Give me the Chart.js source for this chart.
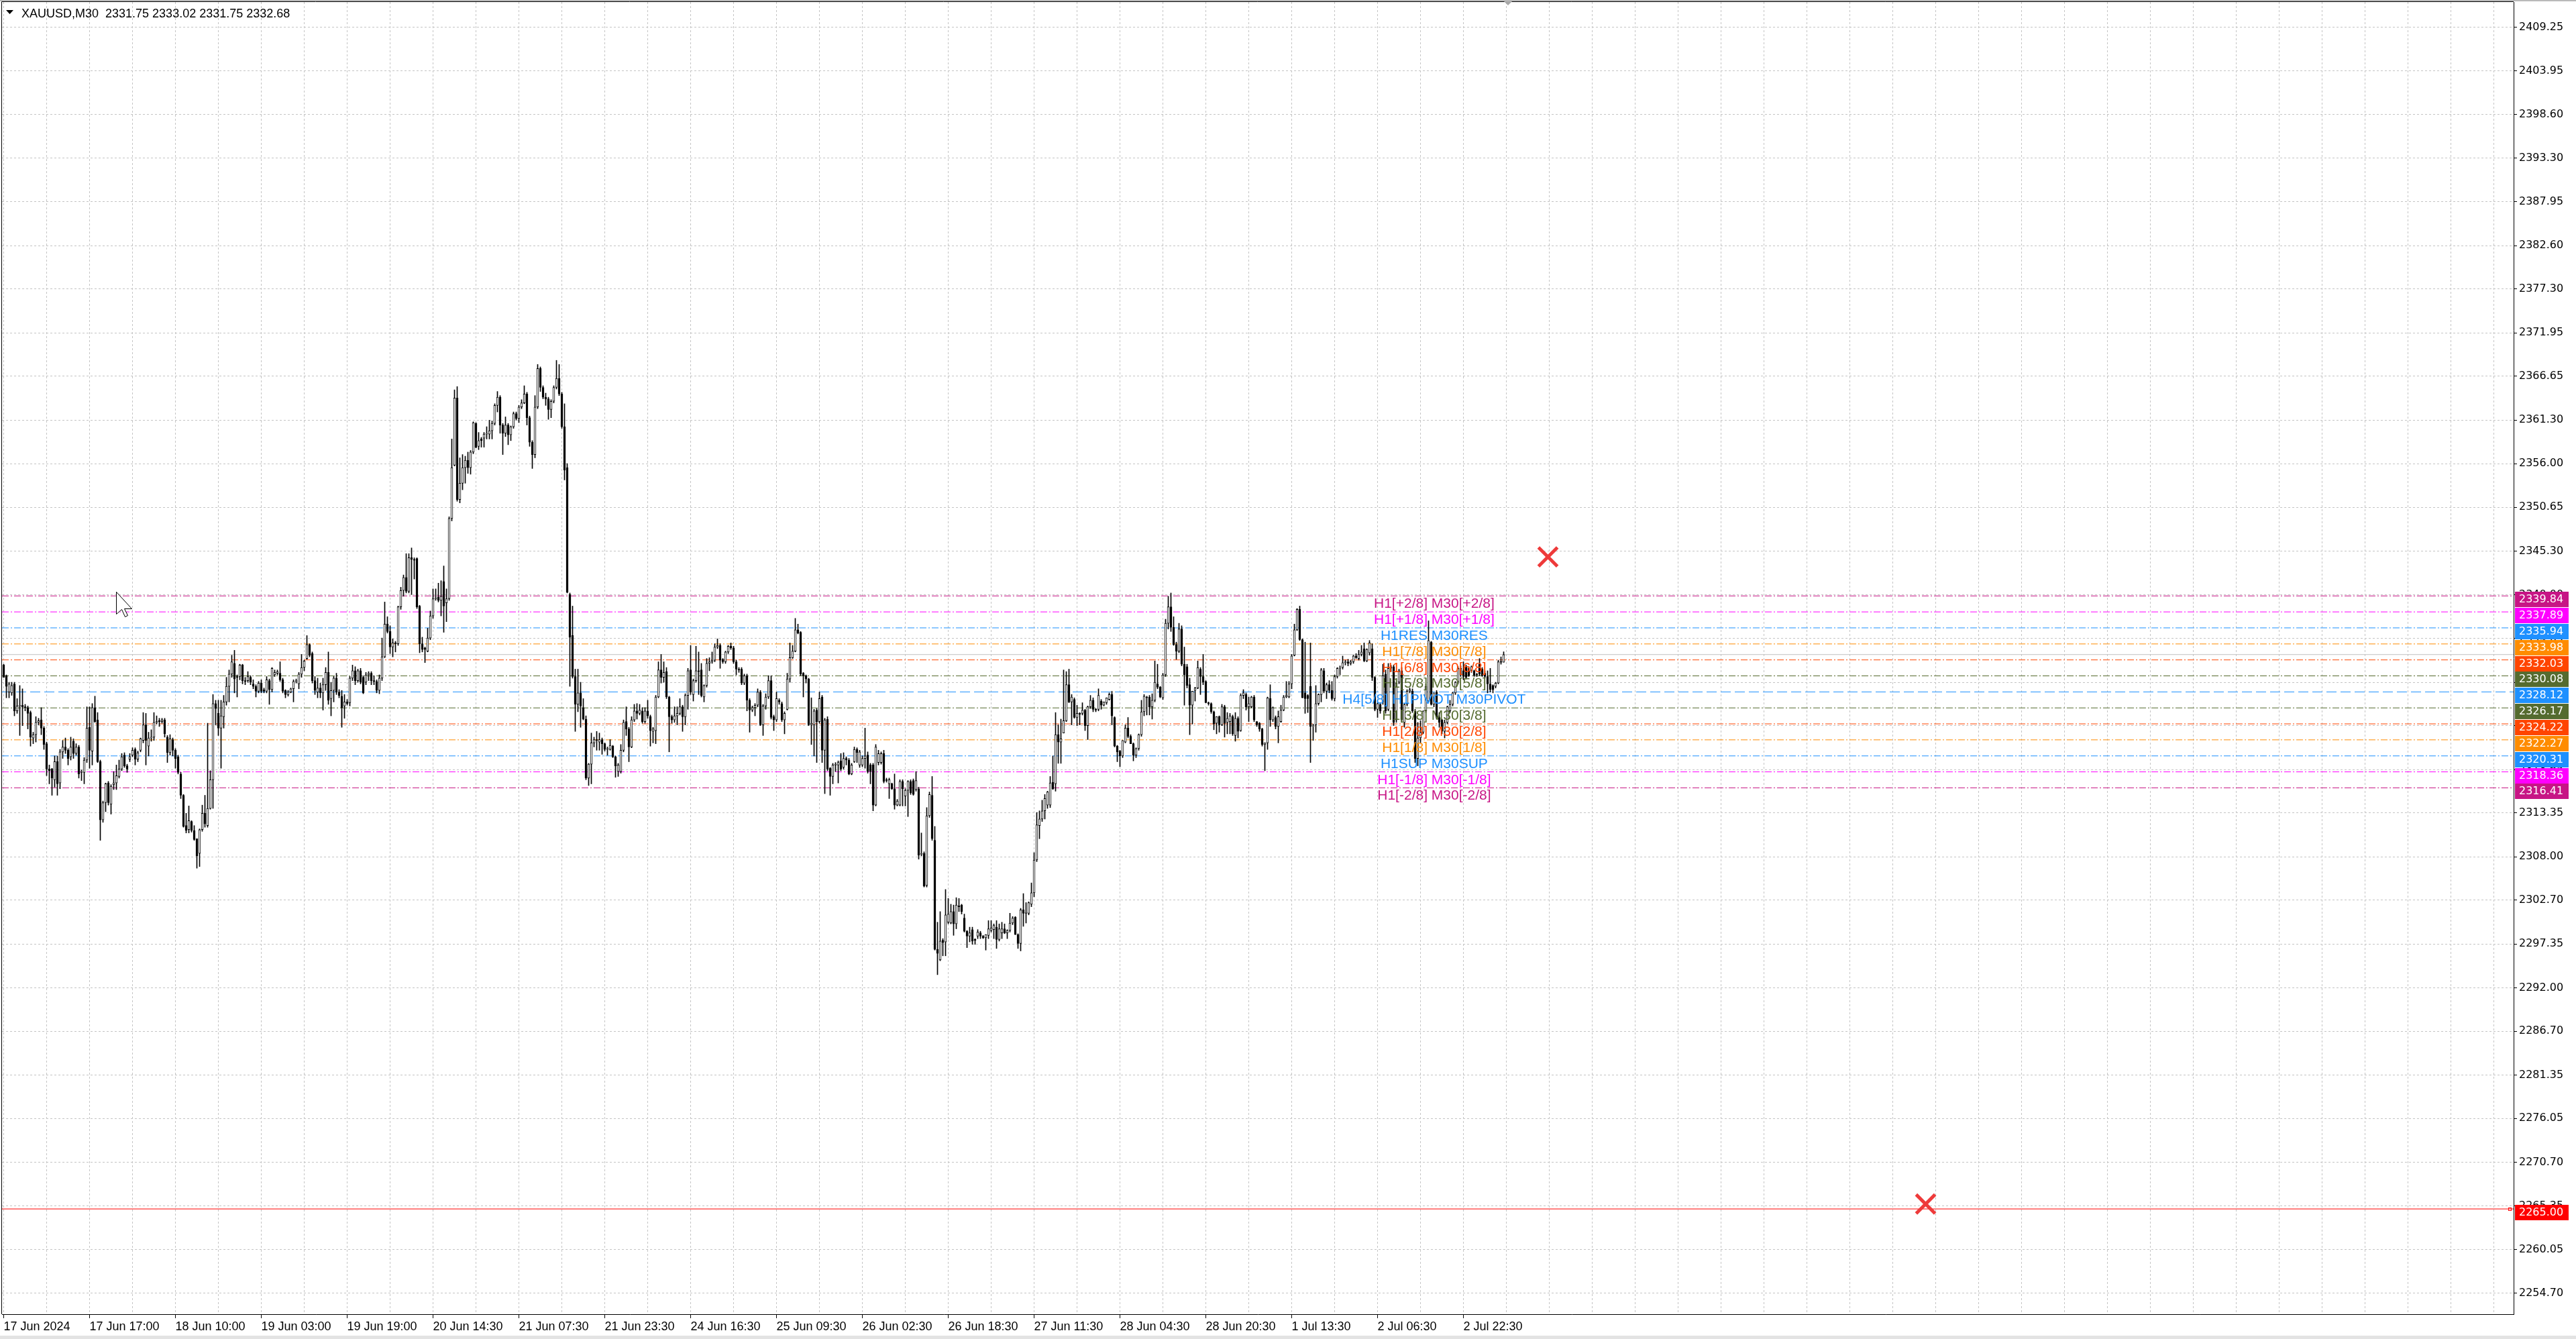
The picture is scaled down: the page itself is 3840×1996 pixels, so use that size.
<!DOCTYPE html>
<html>
<head>
<meta charset="utf-8">
<title>XAUUSD,M30</title>
<script src="https://cdn.jsdelivr.net/npm/chart.js@4.4.1/dist/chart.umd.min.js"></script>
<style>
  html, body { margin: 0; padding: 0; background: #ffffff; overflow: hidden; }
  #wrap { width: 3840px; height: 1996px; position: relative; }
  canvas { display: block; }
</style>
</head>
<body>
<div id="wrap"><canvas id="grafico" width="3840" height="1996"></canvas></div>
<script>
// Velas M30 de XAUUSD, desde 17 Jun 2024 01:00 hasta la vela actual (3 Jul)
const opens = [
  2331.4,2330.1,2328.1,2328.0,2329.1,2325.8,2326.4,2326.5,2326.3,2326.2,
  2325.6,2322.5,2322.9,2324.4,2324.7,2323.7,2321.8,2318.7,2318.7,2317.4,
  2319.6,2317.0,2320.8,2321.4,2321.0,2320.2,2322.1,2320.6,2321.4,2318.3,
  2318.3,2319.8,2323.8,2320.9,2326.2,2324.7,2319.6,2312.5,2314.6,2317.0,
  2314.4,2316.8,2317.0,2317.8,2318.7,2320.4,2319.1,2319.9,2320.4,2321.1,
  2319.9,2321.0,2322.2,2324.1,2321.5,2322.5,2322.6,2324.4,2324.6,2324.5,
  2324.7,2322.6,2320.7,2322.3,2321.0,2320.2,2318.1,2315.5,2311.8,2311.3,
  2312.3,2311.2,2310.2,2308.4,2311.3,2313.3,2311.8,2313.9,2317.4,2326.7,
  2325.5,2323.7,2325.1,2326.9,2328.8,2330.3,2331.6,2330.0,2330.0,2331.4,
  2329.5,2329.5,2329.9,2329.1,2328.8,2328.2,2329.2,2328.4,2328.2,2329.5,
  2328.4,2330.2,2330.4,2330.4,2329.6,2328.3,2327.8,2328.1,2328.5,2329.4,
  2329.1,2330.3,2331.1,
  2332.2,2333.9,2332.8,2329.5,2328.1,2328.6,2328.0,2329.0,2330.5,2327.3,
  2328.3,2329.8,2328.1,2327.6,2326.4,2326.9,2326.8,2329.8,2330.7,2329.5,
  2330.7,2329.9,2329.3,2330.2,2330.4,2329.5,2329.4,2328.3,2329.8,2332.4,
  2336.4,2335.5,2333.6,2334.1,2334.0,2338.5,2340.5,2342.1,2340.4,2344.5,
  2344.3,2344.4,2338.6,2334.0,2333.5,2333.1,2334.7,2337.4,2339.5,2339.7,
  2339.3,2341.6,2339.0,2339.5,2349.3,2355.8,2364.0,2351.6,2353.6,2355.5,
  2356.4,2355.5,2357.4,2360.9,2358.1,2359.0,2359.1,2359.6,2359.6,2360.0,
  2360.9,2363.1,2364.1,2360.7,2359.7,2360.7,2359.5,2360.5,2362.1,2361.5,
  2362.9,2363.4,2364.5,2361.6,2358.6,2357.1,2362.9,2367.6,2365.3,2364.1,
  2363.9,2362.6,2363.6,2365.3,2366.4,2364.5,2360.5,2355.5,2340.0,2335.0,
  2330.0,2326.6,2328.0,2326.2,2324.8,2317.6,2319.3,2321.9,2322.3,2322.0,
  2322.3,2321.8,2321.1,2321.1,
  2321.5,2320.2,2318.4,2318.4,2321.0,2324.5,2323.6,2321.4,2324.7,2325.8,
  2325.5,2325.8,2324.5,2325.8,2325.1,2323.3,2323.4,2327.5,2330.8,2329.9,
  2330.6,2327.5,2325.1,2324.7,2325.2,2325.5,2326.3,2325.1,2327.7,2330.8,
  2327.8,2329.5,2330.7,2330.8,2327.5,2328.9,2331.6,2331.8,2332.0,2333.6,
  2333.8,2332.1,2331.8,2333.0,2333.7,2333.5,2331.8,2330.9,2330.9,2329.2,
  2330.1,2327.1,2325.9,2326.2,2326.5,2328.1,2324.1,2326.4,2327.5,2329.5,
  2325.1,2324.7,2327.1,2326.7,2324.7,2326.0,2329.7,2332.3,2333.1,2335.7,
  2335.4,2330.4,2330.1,2329.7,2324.1,2324.1,2325.9,2324.5,2327.5,2321.0,
  2324.8,2318.8,2317.8,2319.2,2319.2,2319.7,2318.9,2320.0,2319.8,2318.1,
  2319.6,2321.1,2319.2,2319.2,2320.0,2320.4,2319.2,2319.2,2314.3,2319.5,
  2319.5,2320.6,2317.4,2316.9,2316.9,2316.3,2314.3,2314.3,2317.2,2315.4,
  2316.1,2317.2,
  2317.3,2316.2,2316.3,2308.3,2308.4,2304.5,2313.0,2315.5,2310.0,2296.7,
  2295.4,2297.8,2297.6,2300.0,2299.9,2301.3,2299.8,2302.0,2302.1,2300.5,
  2298.9,2298.3,2299.1,2297.9,2298.3,2298.7,2298.3,2298.1,2298.4,2299.0,
  2299.1,2299.4,2297.9,2298.7,2299.2,2298.7,2299.0,2299.9,2300.6,2298.5,
  2297.4,2301.5,2301.1,2301.1,2302.2,2303.6,2307.6,2311.8,2312.6,2313.6,
  2314.3,2314.3,2317.1,2316.9,2322.9,2322.0,2323.1,2324.6,2329.0,2326.9,
  2327.2,2325.0,2325.5,2325.5,2325.9,2324.0,2326.3,2327.1,2326.0,2326.0,
  2327.0,2326.5,2326.8,2327.2,2327.8,2325.0,2321.5,2320.9,2320.3,2322.0,
  2323.7,2322.7,2321.8,2320.4,2321.2,2322.9,2325.7,2327.5,2327.5,2326.3,
  2327.1,2329.1,2328.7,2327.4,2330.2,2336.5,2338.5,2336.0,2333.9,2333.1,
  2335.8,2331.5,2331.2,2329.0,2326.5,2328.3,2328.6,2330.9,2330.0,2329.4,
  2326.8,2326.7,2325.7,
  2324.3,2325.1,2324.1,2326.3,2324.4,2324.5,2325.1,2322.8,2324.9,2323.4,
  2327.7,2327.8,2326.3,2326.3,2327.5,2324.5,2324.3,2323.6,2321.7,2321.9,
  2327.3,2324.7,2325.0,2323.9,2324.5,2325.9,2327.5,2327.5,2329.1,2332.6,
  2335.7,2338.2,2334.5,2328.0,2327.7,
  2328.8,2323.9,2324.1,2326.7,2327.8,2330.7,2328.2,2329.0,2328.3,2327.3,
  2330.0,2331.0,2331.1,2331.7,2331.8,2331.6,2331.8,2332.5,2332.2,2332.7,
  2333.4,2331.9,2332.9,2333.4,2329.9,2326.0,2326.6,2326.9,2330.3,2326.0,
  2331.0,2331.2,2324.7,2329.3,2330.7,2324.4,2326.6,2328.2,2328.2,2325.8,
  2320.0,2322.5,2323.2,2325.8,2327.0,2334.2,2326.6,2328.1,2325.0,2324.7,
  2323.3,2324.4,2325.8,2326.6,2328.0,2329.3,2330.2,2330.7,2331.2,2331.0,
  2330.7,2330.7,2330.3,2331.5,2330.9,2330.4,2330.0,2329.1,2328.9,2328.8,
  2329.2,2331.8,2331.75
];
const highs = [
  2331.5,2330.2,2329.3,2329.3,2329.3,2327.3,2328.9,2328.5,2326.6,2326.4,
  2325.8,2323.2,2325.1,2324.9,2326.2,2323.9,2322.0,2319.2,2318.8,2320.3,
  2320.3,2321.1,2322.2,2322.5,2321.2,2322.6,2322.4,2321.8,2321.6,2318.6,
  2320.1,2326.3,2326.3,2326.7,2327.6,2325.6,2319.8,2314.8,2317.0,2317.2,
  2316.8,2318.4,2319.2,2319.8,2320.6,2320.7,2319.3,2320.6,2321.3,2321.3,
  2320.9,2322.5,2325.6,2325.5,2323.2,2323.5,2325.6,2325.2,2324.9,2324.9,
  2324.9,2322.8,2322.9,2322.5,2321.2,2320.4,2318.3,2315.6,2313.3,2314.2,
  2312.4,2311.8,2310.2,2311.4,2314.3,2315.5,2324.3,2318.5,2327.8,2327.1,
  2327.1,2327.1,2327.7,2329.9,2330.8,2332.6,2333.2,2330.2,2331.5,2331.5,
  2329.9,2330.6,2330.1,2329.6,2329.0,2329.4,2329.6,2328.6,2330.0,2329.7,
  2331.1,2330.8,2330.8,2331.8,2329.8,2328.4,2328.3,2328.6,2329.6,2329.7,
  2330.5,2332.7,2332.0,
  2335.0,2334.0,2333.0,2330.0,2329.8,2329.2,2329.8,2331.1,2333.0,2329.3,
  2330.0,2330.4,2328.4,2328.3,2327.8,2327.2,2330.0,2331.4,2331.2,2330.9,
  2331.0,2330.1,2330.5,2330.6,2330.6,2330.1,2329.6,2330.2,2334.7,2339.1,
  2337.3,2336.2,2334.6,2334.3,2338.6,2340.9,2342.4,2345.0,2345.0,2345.7,
  2344.5,2344.5,2338.7,2334.8,2333.6,2335.9,2338.0,2340.7,2340.7,2341.4,
  2341.7,2343.5,2340.7,2349.5,2359.0,2365.0,2365.4,2356.7,2357.1,2356.9,
  2357.4,2357.6,2361.1,2361.0,2359.8,2359.2,2359.8,2360.5,2361.3,2361.2,
  2363.3,2364.8,2364.3,2360.9,2361.7,2360.9,2360.6,2362.3,2362.3,2363.1,
  2363.8,2365.5,2364.7,2361.8,2358.8,2364.3,2368.1,2367.8,2365.5,2364.6,
  2364.1,2363.8,2365.5,2368.6,2368.1,2364.7,2363.3,2356.0,2340.2,2338.6,
  2330.9,2330.9,2329.3,2327.3,2325.2,2319.4,2323.1,2322.6,2323.3,2323.1,
  2322.5,2321.9,2321.4,2322.3,
  2321.6,2320.3,2319.4,2321.7,2324.7,2326.3,2323.8,2325.1,2326.6,2326.7,
  2326.6,2326.2,2326.2,2327.1,2325.3,2323.8,2327.7,2331.8,2332.7,2331.8,
  2331.1,2327.6,2325.3,2326.3,2326.3,2327.3,2326.5,2327.9,2331.0,2333.8,
  2329.7,2333.7,2333.0,2331.6,2329.0,2332.2,2332.3,2333.0,2334.0,2334.6,
  2334.0,2332.2,2333.1,2333.8,2334.1,2333.7,2332.0,2331.1,2331.1,2330.3,
  2330.3,2327.3,2326.4,2326.7,2328.5,2328.3,2326.6,2327.9,2330.1,2330.1,
  2325.3,2328.1,2327.3,2326.9,2325.7,2330.4,2334.1,2333.8,2337.1,2336.4,
  2335.5,2330.5,2330.2,2329.8,2327.4,2326.0,2326.1,2328.1,2327.7,2324.9,
  2325.1,2318.9,2319.4,2319.5,2319.7,2320.6,2320.7,2320.2,2320.0,2319.4,
  2321.4,2321.3,2321.0,2320.3,2323.7,2320.8,2319.4,2319.4,2321.7,2321.0,
  2320.8,2321.0,2317.6,2317.6,2317.0,2318.1,2315.0,2317.4,2317.4,2316.3,
  2317.3,2317.4,
  2317.5,2318.4,2316.5,2310.9,2308.6,2314.0,2315.9,2317.8,2311.7,2300.0,
  2301.3,2298.0,2304.0,2302.9,2302.2,2302.1,2303.0,2302.9,2302.2,2301.0,
  2299.0,2299.4,2299.4,2298.0,2299.1,2298.9,2298.4,2298.5,2300.2,2300.2,
  2299.8,2300.2,2299.8,2300.0,2299.8,2299.1,2301.1,2300.7,2300.7,2298.6,
  2301.7,2303.5,2302.4,2302.5,2304.8,2308.5,2313.4,2313.6,2314.9,2315.6,
  2316.0,2317.8,2320.3,2325.6,2324.1,2324.8,2330.8,2330.6,2330.9,2327.8,
  2327.4,2326.5,2325.6,2326.8,2326.0,2326.4,2327.7,2327.4,2326.1,2328.5,
  2327.2,2326.9,2327.4,2328.0,2328.2,2325.1,2321.6,2321.0,2322.2,2324.1,
  2325.0,2322.9,2321.9,2321.3,2323.0,2327.1,2327.8,2327.6,2327.7,2327.9,
  2331.9,2331.5,2328.8,2330.4,2337.0,2339.8,2340.2,2337.3,2334.2,2336.5,
  2336.2,2333.6,2331.5,2329.8,2328.2,2328.7,2331.9,2331.1,2332.7,2329.5,
  2326.9,2326.8,2325.8,
  2325.1,2325.2,2326.6,2326.5,2325.6,2325.5,2325.3,2325.6,2325.1,2327.9,
  2328.4,2328.0,2327.5,2327.6,2327.7,2324.5,2324.4,2323.7,2321.9,2327.5,
  2329.0,2326.3,2325.2,2325.8,2326.5,2327.7,2329.4,2329.4,2332.7,2336.4,
  2338.3,2338.6,2334.6,2334.2,2327.8,
  2334.1,2324.2,2328.9,2327.9,2331.0,2331.0,2329.2,2329.5,2329.4,2330.2,
  2331.1,2331.3,2332.5,2332.0,2332.1,2332.0,2332.6,2332.8,2333.2,2333.8,
  2334.1,2333.4,2334.4,2334.0,2330.0,2326.8,2326.8,2331.5,2330.8,2331.6,
  2331.4,2331.4,2329.3,2330.9,2331.1,2326.7,2328.4,2328.6,2328.5,2326.0,
  2324.4,2324.6,2325.8,2329.1,2336.8,2334.3,2328.0,2328.3,2325.6,2324.8,
  2324.7,2326.4,2327.1,2328.1,2329.4,2331.2,2331.3,2331.8,2331.4,2331.2,
  2331.3,2330.8,2330.4,2332.2,2331.1,2330.7,2330.7,2331.0,2329.0,2329.3,
  2332.0,2332.4,2333.02
];
const lows = [
  2329.9,2327.4,2327.4,2327.7,2325.2,2325.5,2322.8,2324.0,2325.8,2323.6,
  2321.5,2321.8,2322.0,2324.1,2322.9,2321.1,2317.9,2316.9,2315.5,2316.5,
  2315.5,2316.3,2320.0,2320.6,2319.2,2319.8,2320.0,2320.4,2317.6,2317.3,
  2316.9,2319.5,2318.8,2319.2,2324.4,2319.5,2310.0,2312.2,2313.5,2314.3,
  2313.2,2316.2,2316.2,2317.6,2318.5,2318.9,2318.3,2319.6,2320.2,2319.2,
  2319.6,2320.8,2321.9,2319.2,2320.3,2322.1,2322.2,2324.2,2323.9,2324.3,
  2322.6,2319.5,2320.4,2320.3,2318.8,2318.1,2315.1,2311.6,2310.9,2310.9,
  2311.0,2310.0,2306.6,2306.8,2311.1,2311.6,2311.6,2313.8,2313.9,2324.1,
  2322.8,2318.8,2323.7,2326.5,2326.9,2329.9,2328.0,2327.5,2329.6,2329.1,
  2329.0,2329.3,2329.0,2328.5,2327.5,2328.0,2328.0,2328.0,2328.0,2326.6,
  2328.1,2330.0,2330.2,2329.4,2328.0,2327.4,2327.6,2328.0,2326.9,2329.2,
  2328.5,2329.9,2330.7,
  2332.1,2332.4,2329.2,2327.8,2327.4,2327.4,2325.9,2328.3,2326.6,2325.2,
  2326.9,2327.8,2327.4,2323.8,2324.9,2326.5,2326.4,2329.5,2329.0,2329.3,
  2329.1,2327.9,2329.0,2329.5,2329.0,2329.0,2328.0,2327.9,2329.5,2332.3,
  2335.3,2332.8,2332.4,2333.0,2333.8,2338.2,2339.8,2340.2,2340.2,2340.0,
  2341.9,2338.3,2332.9,2333.0,2331.7,2333.0,2334.5,2337.1,2339.3,2339.1,
  2337.4,2335.4,2336.7,2339.3,2349.0,2355.7,2351.4,2351.2,2352.8,2353.6,
  2354.8,2354.7,2357.2,2357.9,2357.7,2358.0,2358.0,2359.0,2359.0,2359.0,
  2360.7,2362.3,2359.7,2357.1,2359.3,2358.3,2358.8,2360.3,2361.3,2361.0,
  2362.7,2363.3,2360.7,2358.1,2355.4,2356.7,2362.7,2364.8,2363.9,2363.1,
  2361.4,2361.6,2363.4,2365.1,2364.3,2360.3,2354.0,2340.2,2328.8,2329.8,
  2323.3,2325.7,2323.8,2324.7,2317.4,2316.7,2316.9,2321.4,2321.0,2321.0,
  2320.5,2320.9,2320.4,2321.0,
  2320.1,2317.7,2317.8,2318.2,2320.8,2322.8,2319.6,2321.3,2324.5,2324.8,
  2325.3,2324.3,2324.3,2324.9,2321.5,2321.9,2321.8,2327.4,2329.2,2329.3,
  2327.3,2320.8,2324.3,2324.4,2324.1,2325.3,2323.3,2324.1,2326.0,2327.8,
  2327.0,2329.3,2327.8,2327.5,2326.9,2328.7,2330.7,2331.6,2331.8,2333.4,
  2331.0,2331.6,2331.6,2332.8,2333.3,2331.6,2330.2,2330.5,2329.0,2329.0,
  2325.8,2323.2,2325.7,2325.2,2326.3,2324.0,2322.8,2326.0,2327.3,2324.8,
  2323.4,2324.5,2326.6,2324.5,2323.0,2325.9,2329.3,2332.2,2333.0,2335.2,
  2330.1,2327.5,2329.2,2324.0,2321.7,2320.3,2319.5,2324.3,2319.5,2315.7,
  2318.5,2315.5,2316.9,2318.4,2317.0,2318.5,2318.7,2319.2,2318.0,2318.0,
  2319.5,2319.5,2318.9,2319.0,2318.8,2318.2,2316.9,2313.6,2314.2,2319.2,
  2319.3,2317.0,2317.1,2315.1,2316.2,2313.8,2314.2,2314.2,2314.2,2314.2,
  2312.9,2315.6,
  2315.5,2316.0,2307.7,2308.1,2304.3,2304.3,2312.8,2310.0,2296.6,2293.6,
  2295.3,2295.9,2295.9,2299.8,2299.8,2298.4,2299.2,2301.3,2301.0,2298.8,
  2296.9,2297.6,2297.3,2297.3,2298.0,2298.0,2298.0,2296.6,2298.0,2298.8,
  2298.0,2296.8,2297.7,2298.0,2298.6,2298.0,2298.8,2299.7,2298.5,2296.8,
  2296.5,2299.5,2299.9,2300.9,2301.9,2303.1,2307.4,2310.2,2312.3,2312.6,
  2313.9,2314.0,2316.2,2316.0,2319.4,2319.4,2323.1,2324.5,2326.8,2324.1,
  2324.9,2324.0,2324.1,2325.3,2323.4,2322.3,2326.1,2325.7,2325.7,2325.8,
  2326.0,2326.4,2326.6,2327.1,2324.1,2321.4,2319.6,2319.0,2320.1,2321.9,
  2322.5,2321.8,2319.7,2320.1,2321.0,2322.7,2325.2,2325.3,2325.3,2324.8,
  2326.9,2328.5,2327.4,2327.2,2330.0,2335.8,2335.5,2333.8,2332.1,2332.9,
  2331.3,2326.5,2328.6,2322.9,2324.2,2327.0,2328.5,2327.8,2329.0,2326.8,
  2326.5,2325.5,2323.5,
  2323.0,2323.2,2324.0,2322.6,2323.0,2323.0,2322.8,2322.1,2322.5,2323.3,
  2327.3,2325.9,2324.5,2326.2,2324.5,2323.9,2323.3,2321.5,2318.5,2321.1,
  2323.9,2324.5,2323.6,2321.9,2324.4,2325.8,2327.4,2327.4,2328.5,2332.5,
  2335.6,2334.4,2327.4,2325.5,2325.6,
  2319.5,2322.2,2323.2,2326.5,2326.9,2328.0,2327.3,2328.0,2327.1,2327.0,
  2329.8,2330.2,2330.9,2331.4,2331.3,2331.4,2331.6,2332.2,2332.0,2332.5,
  2331.8,2331.8,2332.6,2329.5,2325.8,2325.0,2325.5,2326.6,2325.5,2325.8,
  2330.6,2324.0,2324.4,2329.1,2324.4,2323.8,2326.4,2328.0,2325.6,2319.5,
  2319.1,2321.9,2323.0,2325.6,2326.9,2326.5,2326.3,2324.8,2323.8,2323.0,
  2322.5,2324.2,2325.6,2326.4,2327.8,2329.1,2330.0,2329.6,2329.7,2330.0,
  2330.5,2330.0,2330.0,2330.1,2330.0,2329.8,2328.0,2328.1,2328.0,2328.6,
  2329.1,2331.5,2331.75
];
const closes = [
  2329.9,2328.8,2329.1,2328.9,2325.8,2326.4,2326.5,2326.3,2326.2,2325.5,
  2322.6,2322.9,2324.4,2324.6,2323.7,2321.7,2318.7,2318.5,2317.6,2319.6,
  2316.9,2320.8,2321.4,2321.0,2320.0,2321.4,2320.6,2321.4,2318.1,2318.4,
  2319.8,2323.7,2321.0,2326.2,2324.5,2319.6,2312.5,2314.6,2316.9,2314.6,
  2316.6,2317.0,2317.9,2318.7,2320.2,2319.1,2318.7,2320.2,2321.0,2319.9,
  2320.7,2322.4,2324.1,2322.2,2322.5,2322.6,2324.4,2324.5,2324.5,2324.7,
  2323.0,2320.7,2322.4,2321.0,2320.0,2318.3,2315.5,2311.7,2311.2,2312.4,
  2311.2,2310.1,2308.1,2311.3,2313.3,2312.0,2313.9,2317.4,2326.7,2326.1,
  2323.7,2325.2,2326.9,2328.8,2330.3,2331.8,2329.7,2329.9,2331.4,2329.5,
  2329.4,2330.0,2329.3,2328.8,2328.2,2329.2,2328.2,2328.2,2329.6,2328.4,
  2331.0,2330.5,2330.6,2329.6,2328.2,2327.8,2328.1,2328.5,2329.4,2329.5,
  2330.3,2331.1,2331.9,
  2333.9,2332.6,2329.5,2328.3,2328.6,2328.0,2329.0,2330.5,2327.1,2328.3,
  2329.8,2328.1,2327.7,2326.2,2326.9,2326.7,2329.8,2330.7,2329.5,2330.7,
  2329.3,2328.0,2330.2,2330.4,2329.5,2329.4,2328.3,2329.8,2332.4,2336.4,
  2335.5,2333.6,2334.1,2334.0,2338.5,2340.5,2342.1,2340.4,2344.5,2344.3,
  2344.2,2338.5,2334.0,2333.3,2333.3,2334.7,2337.4,2339.5,2339.6,2339.3,
  2339.8,2338.6,2339.5,2349.3,2355.5,2364.0,2351.6,2353.6,2355.5,2356.4,
  2355.5,2357.4,2361.0,2358.0,2358.8,2358.8,2359.6,2359.7,2360.0,2360.9,
  2363.1,2364.1,2360.7,2359.7,2360.7,2359.5,2360.5,2362.1,2361.5,2362.9,
  2363.4,2364.5,2361.6,2358.6,2357.1,2362.9,2367.6,2365.3,2364.1,2363.9,
  2362.6,2363.6,2365.3,2366.4,2364.5,2360.5,2355.2,2340.3,2334.8,2330.0,
  2326.6,2328.0,2326.4,2324.8,2317.6,2319.3,2321.9,2322.3,2322.2,2322.3,
  2321.8,2321.1,2321.2,2321.6,
  2320.2,2319.1,2319.2,2321.0,2324.4,2323.6,2321.4,2324.7,2325.8,2325.5,
  2325.9,2324.5,2325.8,2325.2,2323.4,2323.6,2327.5,2330.8,2329.9,2330.5,
  2327.5,2325.1,2324.7,2325.2,2325.5,2326.3,2325.1,2327.7,2330.7,2328.1,
  2329.5,2330.7,2330.6,2327.7,2328.9,2331.6,2331.8,2332.0,2333.6,2333.8,
  2332.0,2331.8,2333.0,2333.7,2333.5,2331.8,2330.9,2330.8,2329.2,2330.1,
  2327.1,2325.9,2326.2,2326.5,2328.1,2324.1,2326.4,2327.5,2329.5,2325.0,
  2324.7,2327.3,2326.9,2324.7,2325.5,2329.7,2332.3,2333.1,2335.7,2335.3,
  2330.3,2330.1,2329.7,2324.1,2324.3,2325.8,2324.5,2327.3,2321.0,2324.7,
  2318.7,2317.8,2319.2,2319.3,2319.5,2318.7,2320.0,2319.8,2318.1,2319.2,
  2321.1,2320.7,2320.8,2320.0,2320.3,2318.4,2318.4,2314.3,2321.4,2320.6,
  2320.6,2317.2,2317.3,2317.4,2316.3,2314.3,2314.8,2317.2,2316.3,2316.1,
  2317.2,2315.8,
  2315.6,2317.3,2308.2,2308.4,2304.4,2313.0,2315.6,2310.2,2296.7,2296.2,
  2297.7,2297.5,2300.9,2301.0,2301.3,2299.8,2302.1,2301.9,2301.3,2298.9,
  2298.3,2298.7,2297.7,2297.8,2298.8,2298.3,2298.1,2298.5,2299.2,2299.3,
  2299.6,2297.9,2299.2,2299.2,2298.7,2299.0,2299.9,2300.5,2298.5,2297.4,
  2301.5,2301.1,2301.2,2302.4,2303.6,2307.6,2311.9,2312.6,2313.6,2315.1,
  2315.9,2317.0,2316.3,2322.9,2322.0,2322.4,2324.6,2329.0,2326.9,2327.5,
  2325.0,2325.5,2325.4,2325.9,2324.0,2326.3,2327.1,2326.0,2325.9,2327.7,
  2326.5,2326.9,2327.4,2327.8,2325.2,2321.5,2320.8,2320.3,2322.2,2323.7,
  2322.7,2321.8,2320.4,2321.2,2322.9,2325.7,2327.6,2327.4,2326.3,2327.1,
  2329.3,2328.7,2327.5,2330.2,2336.5,2338.5,2336.0,2333.9,2333.1,2335.8,
  2331.5,2330.2,2328.9,2326.5,2328.2,2328.6,2331.1,2330.0,2329.3,2326.8,
  2326.7,2325.7,2324.2,
  2325.1,2324.1,2326.3,2324.3,2324.9,2325.2,2323.0,2324.9,2323.3,2327.7,
  2328.0,2326.3,2326.7,2327.5,2324.7,2324.1,2323.6,2321.7,2321.9,2327.4,
  2324.7,2326.2,2323.9,2325.1,2325.9,2327.5,2327.7,2329.1,2332.5,2335.7,
  2338.2,2334.5,2327.4,2327.3,2327.3,
  2323.9,2324.0,2326.7,2327.8,2330.8,2328.2,2329.0,2328.3,2327.3,2330.0,
  2331.0,2331.1,2331.7,2331.8,2331.6,2331.8,2332.5,2332.3,2332.7,2333.0,
  2331.9,2333.3,2334.1,2329.9,2326.0,2326.7,2325.8,2330.1,2325.8,2331.0,
  2331.2,2324.4,2329.2,2330.7,2324.7,2326.6,2328.2,2328.4,2325.8,2320.0,
  2322.5,2323.2,2325.8,2328.8,2334.4,2326.6,2328.0,2325.0,2324.4,2323.3,
  2324.4,2326.3,2326.6,2328.0,2329.3,2331.0,2331.0,2330.0,2329.9,2330.1,
  2331.2,2330.1,2330.2,2330.3,2330.1,2330.0,2329.1,2328.4,2328.4,2329.2,
  2331.8,2331.75,2332.68
];

// Etiquetas del eje de tiempo (una cada 32 velas) y del eje de precios
const xLabels = ["17 Jun 2024", "17 Jun 17:00", "18 Jun 10:00", "19 Jun 03:00", "19 Jun 19:00",
  "20 Jun 14:30", "21 Jun 07:30", "21 Jun 23:30", "24 Jun 16:30", "25 Jun 09:30", "26 Jun 02:30",
  "26 Jun 18:30", "27 Jun 11:30", "28 Jun 04:30", "28 Jun 20:30", "1 Jul 13:30", "2 Jul 06:30", "2 Jul 22:30"];
const yTicks = [2409.25, 2403.95, 2398.60, 2393.30, 2387.95, 2382.60, 2377.30, 2371.95, 2366.65,
  2361.30, 2356.00, 2350.65, 2345.30, 2340.00, 2334.65, 2329.30, 2324.00, 2318.65, 2313.35,
  2308.00, 2302.70, 2297.35, 2292.00, 2286.70, 2281.35, 2276.05, 2270.70, 2265.35, 2260.05, 2254.70];

// Niveles de Murrey (H1 / M30)
const levelValues = [2339.84, 2337.89, 2335.94, 2333.98, 2332.03, 2330.08, 2328.12,
  2326.17, 2324.22, 2322.27, 2320.31, 2318.36, 2316.41];
const levelNames = ["H1[+2/8] M30[+2/8]", "H1[+1/8] M30[+1/8]", "H1RES M30RES", "H1[7/8] M30[7/8]",
  "H1[6/8] M30[6/8]", "H1[5/8] M30[5/8]", "H4[5/8] H1PIVOT M30PIVOT", "H1[3/8] M30[3/8]",
  "H1[2/8] M30[2/8]", "H1[1/8] M30[1/8]", "H1SUP M30SUP", "H1[-1/8] M30[-1/8]", "H1[-2/8] M30[-2/8]"];

const bidPrice = 2332.68;
const alertPrice = 2265.00;
const headerText = "XAUUSD,M30  2331.75 2333.02 2331.75 2332.68";

// Marcas rojas (objetos del gráfico)
const markerBars = [575.5, 716.25];
const markerPrices = [2344.6, 2265.6];

// ---- estilos ----
const levelColors = ["#C71585", "#FF00FF", "#1E90FF", "#FF8C00", "#FF4500", "#556B2F", "#1E90FF",
  "#556B2F", "#FF4500", "#FF8C00", "#1E90FF", "#FF00FF", "#C71585"];
const DASH_DOT = [10, 3, 2, 3];
const DASH = [15, 6];

const X_MIN = -0.625, X_MAX = 935.375;
const Y_MIN = 2252.15, Y_MAX = 2412.35;
const LABEL_BAR = 533.1;

const wickData = highs.map((h, i) => ({ x: i, y: [lows[i], h] }));
const bodyData = opens.map((o, i) => ({ x: i, y: [Math.min(o, closes[i]), Math.max(o, closes[i])] }));
const hLine = v => [{ x: X_MIN, y: v }, { x: X_MAX, y: v }];

const levelSets = levelValues.map((v, k) => ({
  type: 'line',
  data: hLine(v),
  borderColor: levelColors[k],
  borderWidth: 1,
  borderDash: k === 6 ? DASH : DASH_DOT,
  pointRadius: 0,
  order: 4
}));

const gridTicks = [];
for (let v = 0; v <= 928; v += 16) gridTicks.push(v);

function xLabelFor(v) {
  if (v % 32 !== 0) return '';
  return xLabels[v / 32] || '';
}

// sin relleno extra alrededor del área del gráfico
function fijarEje(s, size) {
  if (s.isHorizontal()) s.height = size; else s.width = size;
  s.paddingTop = 0; s.paddingBottom = 0; s.paddingLeft = 0; s.paddingRight = 0;
}

// Textos de niveles, cuadro de la alerta y cursor
const chartOverlay = {
  id: 'chartOverlay',
  afterDatasetsDraw(chart) {
    const { ctx, scales: { x, y } } = chart;
    ctx.save();
    ctx.font = '21px "Liberation Sans", Arial, sans-serif';
    ctx.textAlign = 'center';
    ctx.textBaseline = 'alphabetic';
    const cx = x.getPixelForValue(LABEL_BAR);
    levelValues.forEach((v, k) => {
      ctx.fillStyle = levelColors[k];
      ctx.fillText(levelNames[k], cx, y.getPixelForValue(v) + 18);
    });

    // pequeño cuadro al final de la línea de alerta
    const ay = Math.round(y.getPixelForValue(alertPrice)) + 0.5;
    ctx.strokeStyle = '#FF0000';
    ctx.lineWidth = 1;
    ctx.strokeRect(x.right - 7.5, ay - 2, 4, 4);

    // cursor del ratón
    const px = 173.5, py = 882.5;
    ctx.beginPath();
    ctx.moveTo(px, py);
    ctx.lineTo(px, py + 33);
    ctx.lineTo(px + 8, py + 26);
    ctx.lineTo(px + 13, py + 37);
    ctx.lineTo(px + 17, py + 35);
    ctx.lineTo(px + 12, py + 25);
    ctx.lineTo(px + 23, py + 25);
    ctx.closePath();
    ctx.fillStyle = '#ffffff';
    ctx.fill();
    ctx.strokeStyle = '#000000';
    ctx.stroke();
    ctx.restore();
  },
  afterDraw(chart) {
    const { ctx, chartArea, scales: { y } } = chart;
    ctx.save();

    // marco de la ventana
    ctx.fillStyle = '#B9B9B9';
    ctx.fillRect(0, 0, chart.width, 2);
    ctx.fillStyle = '#E3E3E3';
    ctx.fillRect(0, chart.height - 5, chart.width, 5);
    ctx.strokeStyle = '#000000';
    ctx.lineWidth = 1;
    ctx.beginPath();
    ctx.moveTo(chartArea.left - 0.5, chartArea.bottom);
    ctx.lineTo(chartArea.left - 0.5, chartArea.top - 0.5);
    ctx.lineTo(chartArea.right, chartArea.top - 0.5);
    ctx.stroke();

    // triángulo de desplazamiento del gráfico
    const sx = 2248;
    ctx.fillStyle = '#A8A8A8';
    ctx.beginPath();
    ctx.moveTo(sx - 6, 2);
    ctx.lineTo(sx + 6, 2);
    ctx.lineTo(sx, 8);
    ctx.closePath();
    ctx.fill();

    // cabecera
    ctx.fillStyle = '#000000';
    ctx.beginPath();
    ctx.moveTo(9, 15);
    ctx.lineTo(20, 15);
    ctx.lineTo(14.5, 21);
    ctx.closePath();
    ctx.fill();
    ctx.font = '18px "Liberation Sans", Arial, sans-serif';
    ctx.textAlign = 'left';
    ctx.textBaseline = 'alphabetic';
    ctx.fillText(headerText, 32, 26);

    // etiquetas de precio de los niveles en el eje (ligeramente bajo la línea, como en MT4)
    ctx.font = '16px "DejaVu Sans", sans-serif';
    ctx.textBaseline = 'middle';
    const drawBox = (v, color) => {
      const py = Math.round(y.getPixelForValue(v));
      ctx.fillStyle = color;
      ctx.fillRect(y.left + 2, py - 6, 80, 23);
      ctx.fillStyle = '#ffffff';
      ctx.fillText(v.toFixed(2), y.left + 8, py + 6);
    };
    levelValues.forEach((v, k) => drawBox(v, levelColors[k]));
    drawBox(alertPrice, '#FF0000');
    ctx.restore();
  }
};

const ctx = document.getElementById('grafico').getContext('2d');
new Chart(ctx, {
  type: 'bar',
  data: {
    datasets: [
      ...levelSets,
      {
        type: 'line',
        data: hLine(bidPrice),
        borderColor: '#C0C0C0',
        borderWidth: 1,
        pointRadius: 0,
        order: 4
      },
      {
        type: 'line',
        data: hLine(alertPrice),
        borderColor: '#FF0000',
        borderWidth: 1,
        pointRadius: 0,
        order: 4
      },
      {
        // mechas
        data: wickData,
        backgroundColor: '#000000',
        borderWidth: 0,
        barThickness: 1,
        minBarLength: 1,
        grouped: false,
        order: 2
      },
      {
        // cuerpos de las velas
        data: bodyData,
        backgroundColor: c => closes[c.dataIndex] >= opens[c.dataIndex] ? '#ffffff' : '#000000',
        borderColor: '#000000',
        borderWidth: 1,
        borderSkipped: false,
        barThickness: 3,
        minBarLength: 1,
        grouped: false,
        order: 1
      },
      {
        type: 'line',
        data: markerBars.map((b, i) => ({ x: b, y: markerPrices[i] })),
        showLine: false,
        pointStyle: 'crossRot',
        pointRadius: 20,
        pointBorderWidth: 5,
        pointBorderColor: '#EE3A3A',
        pointBackgroundColor: '#EE3A3A',
        order: 0
      }
    ]
  },
  options: {
    responsive: false,
    animation: false,
    events: [],
    layout: { autoPadding: false, padding: { left: 3, top: 3, right: 0, bottom: 0 } },
    plugins: { legend: { display: false }, tooltip: { enabled: false } },
    scales: {
      x: {
        type: 'linear',
        position: 'bottom',
        min: X_MIN,
        max: X_MAX,
        offset: false,
        afterBuildTicks: s => { s.ticks = gridTicks.map(v => ({ value: v })); },
        afterFit: s => fijarEje(s, 37),
        ticks: {
          callback: v => xLabelFor(v),
          autoSkip: false,
          maxRotation: 0,
          minRotation: 0,
          align: 'start',
          padding: 2,
          color: '#000000',
          font: { family: '"Liberation Sans", Arial, sans-serif', size: 18 }
        },
        grid: {
          color: '#C4C4C4',
          lineWidth: 1,
          offset: false,
          tickLength: 6,
          tickColor: c => (c.tick && xLabelFor(c.tick.value)) ? '#000000' : 'rgba(0,0,0,0)'
        },
        border: { display: true, color: '#000000', width: 1, dash: [3, 3] }
      },
      y: {
        type: 'linear',
        position: 'right',
        min: Y_MIN,
        max: Y_MAX,
        afterBuildTicks: s => { s.ticks = yTicks.map(v => ({ value: v })); },
        afterFit: s => fijarEje(s, 93),
        ticks: {
          callback: v => v.toFixed(2),
          padding: 3,
          color: '#000000',
          font: { family: '"DejaVu Sans", sans-serif', size: 16 }
        },
        grid: {
          color: '#C4C4C4',
          lineWidth: 1,
          tickLength: 5,
          tickColor: '#000000'
        },
        border: { display: true, color: '#000000', width: 1, dash: [3, 3] }
      }
    }
  },
  plugins: [chartOverlay]
});
</script>
</body>
</html>
